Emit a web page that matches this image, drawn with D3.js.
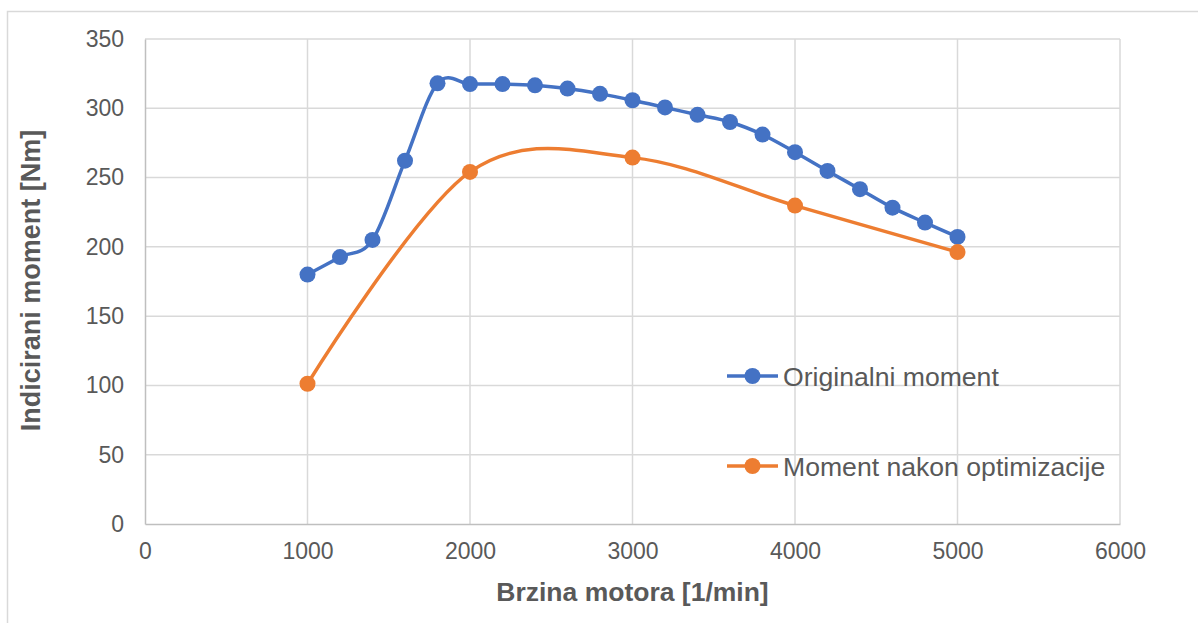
<!DOCTYPE html>
<html>
<head>
<meta charset="utf-8">
<script src="https://cdn.jsdelivr.net/npm/d3@7"></script>
<style>
  html, body { margin: 0; padding: 0; background: #fff; }
  svg { display: block; font-family: "Liberation Sans", Arial, sans-serif; }
</style>
</head>
<body>
<svg id="chart" width="1198" height="623"></svg>
<script>
// ---- data ----
const rpmOriginal = [1000, 1200, 1400, 1600, 1800, 2000, 2200, 2400, 2600, 2800, 3000,
                     3200, 3400, 3600, 3800, 4000, 4200, 4400, 4600, 4800, 5000];
const torqueOriginal = [180, 192.6, 205, 262.2, 318, 317.5, 317.5, 316.6, 314.2, 310.4, 305.8,
                        300.6, 295.3, 290.1, 281, 268.3, 254.8, 241.6, 228.3, 217.5, 207.2];
const rpmOptimized = [1000, 2000, 3000, 4000, 5000];
const torqueOptimized = [101.2, 254.1, 264.4, 229.8, 196.2];
const xTicks = [0, 1000, 2000, 3000, 4000, 5000, 6000];
const yTicks = [0, 50, 100, 150, 200, 250, 300, 350];
const seriesNames = ["Originalni moment", "Moment nakon optimizacije"];
const xTitle = "Brzina motora [1/min]";
const yTitle = "Indicirani moment [Nm]";

const colors = ["#4472c4", "#ed7d31"];
const textColor = "#595959";

const svg = d3.select("#chart");
const W = 1198, H = 623;
const plot = { left: 145, top: 39, right: 1120, bottom: 524 };

// outer chart border
svg.append("rect")
  .attr("x", 7.5).attr("y", 11.5)
  .attr("width", W + 20).attr("height", H + 20)
  .attr("fill", "#fff").attr("stroke", "#d9d9d9").attr("stroke-width", 1.5);

const x = d3.scaleLinear().domain([0, 6000]).range([plot.left, plot.right]);
const y = d3.scaleLinear().domain([0, 350]).range([plot.bottom, plot.top]);

// gridlines
const grid = svg.append("g");
grid.selectAll(".vg").data(xTicks.filter(d => d > 0)).enter().append("line")
  .attr("x1", d => x(d)).attr("x2", d => x(d))
  .attr("y1", plot.top).attr("y2", plot.bottom)
  .attr("stroke", "#d9d9d9").attr("stroke-width", 1.5);
grid.selectAll(".hg").data(yTicks.filter(d => d > 0)).enter().append("line")
  .attr("x1", plot.left).attr("x2", plot.right)
  .attr("y1", d => y(d)).attr("y2", d => y(d))
  .attr("stroke", "#d9d9d9").attr("stroke-width", 1.5);

// axes
const xAxis = svg.append("g")
  .attr("transform", `translate(0,${plot.bottom})`)
  .call(d3.axisBottom(x).tickValues(xTicks).tickSize(0).tickPadding(19).tickFormat(d3.format("d")));
xAxis.select(".domain").attr("stroke", "#bfbfbf").attr("stroke-width", 1.5);
xAxis.selectAll("text").attr("fill", textColor).style("font-size", "23px")
  .style("font-family", "Liberation Sans, Arial, sans-serif");

const yAxis = svg.append("g")
  .attr("transform", `translate(${plot.left},0)`)
  .call(d3.axisLeft(y).tickValues(yTicks).tickSize(0).tickPadding(21).tickFormat(d3.format("d")));
yAxis.select(".domain").attr("stroke", "#bfbfbf").attr("stroke-width", 1.5);
yAxis.selectAll("text").attr("fill", textColor).style("font-size", "23px")
  .style("font-family", "Liberation Sans, Arial, sans-serif");

// axis titles
svg.append("text")
  .attr("x", (plot.left + plot.right) / 2).attr("y", 601)
  .attr("text-anchor", "middle").attr("fill", textColor)
  .style("font-size", "26.5px").style("font-weight", "bold")
  .text(xTitle);
svg.append("text")
  .attr("transform", `translate(40,${(plot.top + plot.bottom) / 2 - 1}) rotate(-90)`)
  .attr("text-anchor", "middle").attr("fill", textColor)
  .style("font-size", "27px").style("font-weight", "bold")
  .text(yTitle);

// series
const series = [
  { xs: rpmOriginal, ys: torqueOriginal },
  { xs: rpmOptimized, ys: torqueOptimized }
];
const line = d3.line().x(d => x(d[0])).y(d => y(d[1])).curve(d3.curveCatmullRom.alpha(0));

series.forEach((s, i) => {
  const pts = s.xs.map((v, j) => [v, s.ys[j]]);
  svg.append("path").datum(pts)
    .attr("d", line).attr("fill", "none")
    .attr("stroke", colors[i]).attr("stroke-width", 3.5)
    .attr("stroke-linejoin", "round").attr("stroke-linecap", "round");
  svg.append("g").selectAll("circle").data(pts).enter().append("circle")
    .attr("cx", d => x(d[0])).attr("cy", d => y(d[1])).attr("r", 8)
    .attr("fill", colors[i]);
});

// legend
const legendY = [376, 466];
seriesNames.forEach((name, i) => {
  const g = svg.append("g").attr("transform", `translate(727,${legendY[i]})`);
  g.append("line").attr("x1", 0).attr("x2", 51).attr("y1", 0).attr("y2", 0)
    .attr("stroke", colors[i]).attr("stroke-width", 3.5);
  g.append("circle").attr("cx", 25.5).attr("cy", 0).attr("r", 8).attr("fill", colors[i]);
  g.append("text").attr("x", 56).attr("y", 9.5)
    .attr("fill", textColor).style("font-size", "26.6px")
    .text(name);
});
</script>
</body>
</html>
